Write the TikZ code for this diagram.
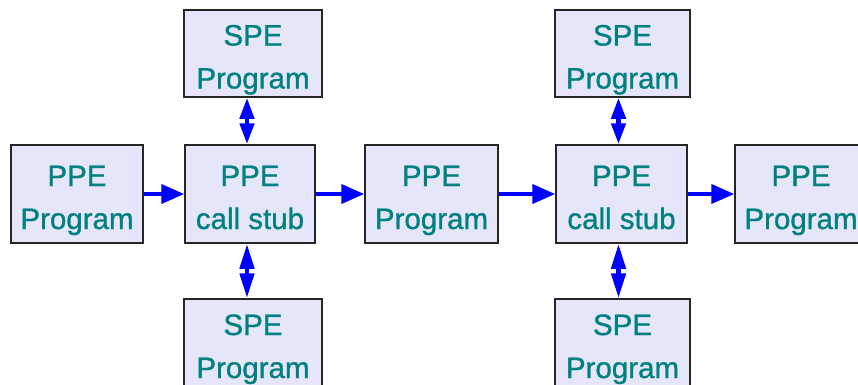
\documentclass[tikz,border=0pt]{standalone}
\usepackage{fontspec}
\setmainfont{Liberation Sans}
\newfontfamily\boxfont[FakeBold=1]{Liberation Sans}
\usetikzlibrary{arrows.meta}
\definecolor{boxfill}{HTML}{E6E6FA}
\definecolor{boxtext}{HTML}{008080}
\newcommand{\boxlines}[2]{\raisebox{0pt}[27pt][0pt]{#1}\\\raisebox{0pt}[0pt][0pt]{#2}}
\tikzset{
  boxnode/.style={draw=black!85, line width=1.5pt, fill=boxfill, text=boxtext,
    align=center, inner sep=0pt, minimum height=98pt,
    font=\boxfont\fontsize{29.5}{43}\selectfont},
  harrow/.style={draw=blue, line width=4pt, -{Triangle[length=23pt,width=19pt]}},
  varrow/.style={draw=blue, line width=4.5pt, {Triangle[length=21pt,width=14pt]}-{Triangle[length=21pt,width=14pt]}},
  varrowlong/.style={draw=blue, line width=4.5pt, {Triangle[length=25pt,width=14pt]}-{Triangle[length=25pt,width=14pt]}}
}
\begin{document}
\begin{tikzpicture}[x=1pt,y=-1pt]
\useasboundingbox (0,0) rectangle (858,384);
\node[boxnode, minimum width=132pt] (ppe1) at (77,194) {\boxlines{PPE}{Program}};
\node[boxnode, minimum width=130pt] (stub1) at (250,194) {\boxlines{PPE}{call stub}};
\node[boxnode, minimum width=138pt, minimum height=87pt] (spe1t) at (253,53.5) {\boxlines{SPE}{Program}};
\node[boxnode, minimum width=138pt, minimum height=88pt] (spe1b) at (253,343) {\boxlines{SPE}{Program}};
\node[boxnode, minimum width=133pt] (ppe2) at (431.5,194) {\boxlines{PPE}{Program}};
\node[boxnode, minimum width=131pt] (stub2) at (621.5,194) {\boxlines{PPE}{call stub}};
\node[boxnode, minimum width=135pt, minimum height=87pt] (spe2t) at (622.5,53.5) {\boxlines{SPE}{Program}};
\node[boxnode, minimum width=135pt, minimum height=88pt] (spe2b) at (622.5,343) {\boxlines{SPE}{Program}};
\node[boxnode, minimum width=132pt] (ppe3) at (801,194) {\boxlines{PPE}{Program}};
\draw[harrow] (ppe1.east) -- (stub1.west);
\draw[harrow] (stub1.east) -- (ppe2.west);
\draw[harrow] (ppe2.east) -- (stub2.west);
\draw[harrow] (stub2.east) -- (ppe3.west);
\coordinate (s1n) at ([xshift=-3pt]stub1.north);
\coordinate (s1s) at ([xshift=-3pt]stub1.south);
\coordinate (s2n) at ([xshift=-3pt]stub2.north);
\coordinate (s2s) at ([xshift=-3pt]stub2.south);
\draw[varrow] (spe1t.south -| s1n) -- (s1n);
\draw[varrowlong] (s1s) -- (spe1b.north -| s1s);
\draw[varrow] (spe2t.south -| s2n) -- (s2n);
\draw[varrowlong] (s2s) -- (spe2b.north -| s2s);
\end{tikzpicture}
\end{document}
